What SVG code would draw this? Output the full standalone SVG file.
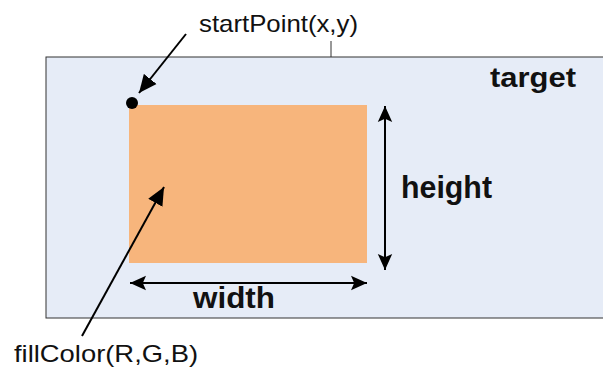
<svg xmlns="http://www.w3.org/2000/svg" width="603" height="367" viewBox="0 0 603 367">
<style>
.lbl{font-family:"Liberation Sans",Arial,sans-serif;fill:#111}
.b{font-weight:bold}
.ln{stroke:#000;stroke-width:2;fill:none}
</style>
<defs>
<marker id="ahs" viewBox="0 0 10 10" refX="10" refY="5" markerWidth="16" markerHeight="16" markerUnits="userSpaceOnUse" orient="auto-start-reverse">
<path d="M0,0.5 L10,5 L0,9.5 L2,5 z" fill="#000"/>
</marker>
<marker id="ahl" viewBox="0 0 10 10" refX="10" refY="5" markerWidth="18" markerHeight="18" markerUnits="userSpaceOnUse" orient="auto">
<path d="M0,0.5 L10,5 L0,9.5 z" fill="#000"/>
</marker>
</defs>
<g id="target">
<rect x="46" y="57" width="570" height="261" fill="#e6ecf7" stroke="#333" stroke-width="1"/>
<line x1="331" y1="41" x2="331" y2="57" stroke="#333" stroke-width="1"/>
<text class="lbl b" x="490" y="87" font-size="27" textLength="86" lengthAdjust="spacingAndGlyphs">target</text>
</g>
<g id="fillrect">
<rect x="129" y="105" width="238" height="158" fill="#f7b57c"/>
</g>
<g id="startpoint">
<circle cx="132" cy="103" r="6" fill="#000"/>
<text class="lbl" x="199" y="32" font-size="24" textLength="159" lengthAdjust="spacingAndGlyphs">startPoint(x,y)</text>
</g>
<g id="labels">
<text class="lbl b" x="401" y="198" font-size="32" textLength="91" lengthAdjust="spacingAndGlyphs">height</text>
<text class="lbl b" x="193" y="308" font-size="29" textLength="82" lengthAdjust="spacingAndGlyphs">width</text>
<text class="lbl" x="14" y="362" font-size="24" textLength="184" lengthAdjust="spacingAndGlyphs">fillColor(R,G,B)</text>
</g>
<g id="connectors">
<line class="ln" x1="186" y1="34" x2="139" y2="93" marker-end="url(#ahl)" stroke-width="2.5"/>
<line class="ln" x1="82" y1="336" x2="164" y2="187" marker-end="url(#ahl)" stroke-width="2.5"/>
<line class="ln" x1="385" y1="106" x2="385" y2="270" marker-start="url(#ahs)" marker-end="url(#ahs)"/>
<line class="ln" x1="130" y1="283" x2="367" y2="283" marker-start="url(#ahs)" marker-end="url(#ahs)"/>
</g>
</svg>
